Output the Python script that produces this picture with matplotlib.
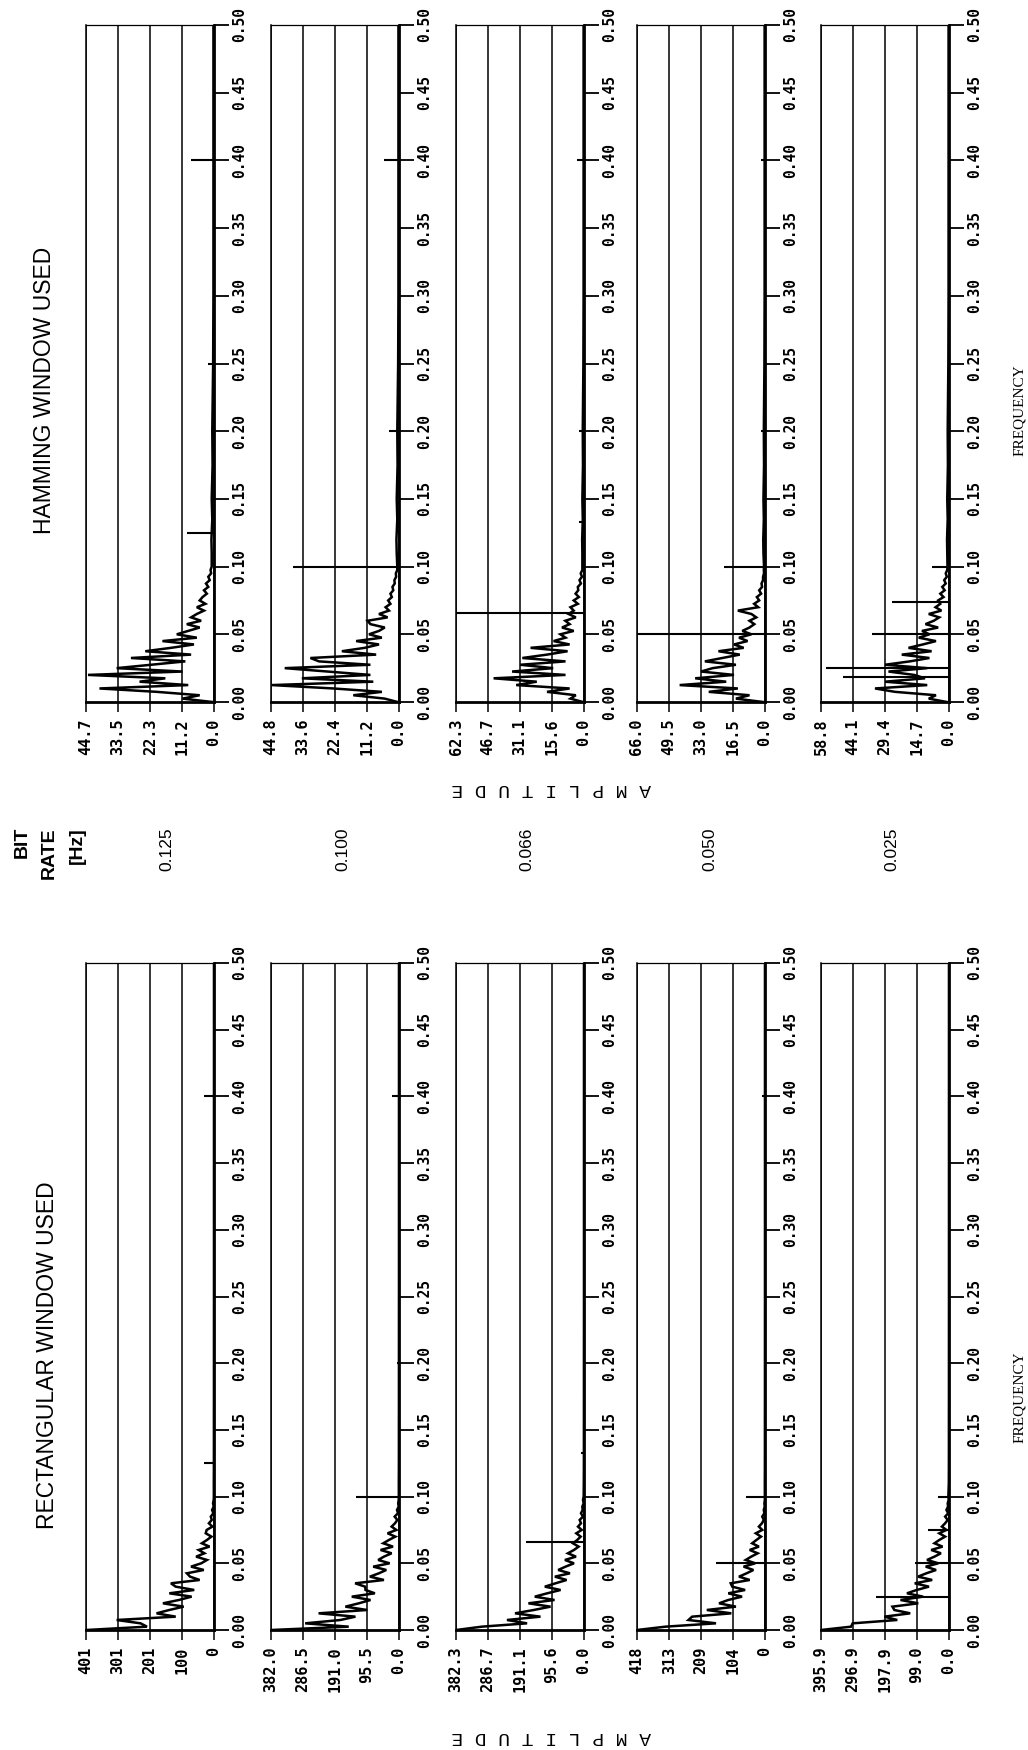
import matplotlib.pyplot as plt
import numpy as np

W, H = 1028, 1750

BIT_RATES = ["0.125", "0.100", "0.066", "0.050", "0.025"]
FREQ_TICKS = [0.00, 0.05, 0.10, 0.15, 0.20, 0.25, 0.30, 0.35, 0.40, 0.45, 0.50]
FREQ_LABELS = [f"{v:.2f}" for v in FREQ_TICKS]

# spectrum bins: fine grid up to 0.1, sparse tail up to Nyquist
LOW_F = np.arange(41) * 0.0025
TAIL_F = [0.11, 0.12, 0.135, 0.15, 0.175, 0.20, 0.25, 0.30, 0.40, 0.50]

# ── rectangular window spectra ──────────────────────────────────────────────
RECT_125 = [400, 210, 230, 305, 120, 180, 140, 95, 160, 110,
            70, 140, 62, 120, 135, 45, 75, 85, 32, 72,
            40, 22, 56, 30, 48, 14, 38, 22, 8, 26,
            23, 5, 16, 7, 10, 2, 6, 1, 3, 1, 0.5]
RECT_100 = [382, 150, 280, 175, 130, 240, 95, 160, 120, 85,
            141, 72, 100, 101, 131, 45, 87, 60, 38, 77,
            28, 62, 45, 22, 55, 18, 47, 30, 11, 34,
            8, 22, 12, 5, 13, 3, 6, 1, 2.5, 0.8, 0.5]
RECT_066 = [382, 305, 170, 230, 130, 206, 150, 100, 166, 88,
            147, 110, 70, 117, 85, 52, 87, 42, 77, 55,
            30, 57, 24, 48, 30, 16, 33, 20, 10, 23,
            7, 18, 9, 13, 3, 9, 4, 5, 1, 3, 1]
RECT_050 = [418, 325, 160, 250, 238, 110, 190, 95, 150, 120,
            75, 120, 65, 107, 112, 50, 85, 60, 38, 70,
            32, 63, 45, 24, 50, 20, 42, 28, 13, 30,
            9, 20, 10, 4, 9, 2, 4, 1, 2, 0.5, 0.5]
RECT_025 = [396, 303, 298, 160, 200, 120, 169, 175, 95, 150,
            80, 130, 100, 62, 106, 52, 96, 70, 40, 72,
            33, 68, 45, 25, 55, 20, 45, 30, 12, 30,
            8, 22, 12, 4, 12, 2.5, 8, 3, 4, 1, 2]
RECT_TAIL = [0.6, 0.4, 0.3, 0.3, 0.2, 0.2, 0.1, 0.1, 0.1, 0.1]

# discrete spectral lines (frequency, amplitude)
RECT_LINES = [
    [(0.125, 31), (0.40, 30)],
    [(0.100, 129), (0.20, 5), (0.40, 20)],
    [(0.066, 174), (0.133, 8)],
    [(0.050, 161), (0.100, 63), (0.40, 10)],
    [(0.025, 225), (0.050, 106), (0.075, 65), (0.100, 34)],
]
RECT_AMP_TICKS = [
    [401, 301, 201, 100, 0],
    [382.0, 286.5, 191.0, 95.5, 0.0],
    [382.3, 286.7, 191.1, 95.6, 0.0],
    [418, 313, 209, 104, 0],
    [395.9, 296.9, 197.9, 99.0, 0.0],
]
RECT_AMP_LABELS = [
    ["401", "301", "201", "100", "0"],
    ["382.0", "286.5", "191.0", "95.5", "0.0"],
    ["382.3", "286.7", "191.1", "95.6", "0.0"],
    ["418", "313", "209", "104", "0"],
    ["395.9", "296.9", "197.9", "99.0", "0.0"],
]

# ── hamming window spectra ──────────────────────────────────────────────────
HAMM_125 = [0.5, 11, 5, 20, 40, 9, 26, 17, 44, 11,
            34, 22, 10, 29, 8, 24, 15, 7, 18, 6,
            13, 9, 5, 9.5, 4.5, 8, 6, 3.5, 6, 3,
            5, 4, 2.5, 3.5, 2, 2.8, 1.5, 2, 1, 1.2, 0.8]
HAMM_100 = [0.5, 5, 16, 6, 23, 44.5, 9, 34, 10, 25,
            40, 10, 28, 31, 8, 20, 12, 7, 15, 6,
            10.5, 7, 5, 10, 11, 4, 7, 3.5, 4.7, 3,
            3.8, 2.5, 3, 2, 2.3, 1.5, 1.6, 1, 1.1, 0.6, 0.6]
HAMM_066 = [0.5, 6.6, 4, 18, 7, 33, 23, 44, 9, 35,
            15, 31, 9, 30, 18, 8, 26, 7, 14.8, 9,
            11.5, 5, 10.7, 7, 9.1, 4, 7.5, 5, 6.6, 3,
            5, 2.5, 4.1, 2.8, 3, 1.5, 2.2, 1, 1.6, 0.8, 0.8]
HAMM_050 = [1, 15, 8, 29, 14, 44, 20, 36, 16, 33,
            27, 15, 31, 22, 13, 24, 11, 16, 9, 13.4,
            7, 11.7, 8, 5.5, 8, 4.5, 7, 14, 3.5, 5.6,
            3, 4.2, 2, 3, 1.5, 1.8, 1, 1, 0.5, 0.6, 0.5]
HAMM_025 = [1, 9.3, 6, 24.8, 34, 10, 29.4, 11, 16, 27.8,
            10, 29.4, 18, 9, 21.7, 8, 18.6, 12, 6, 13.9,
            9, 12.4, 5, 10.8, 7, 4.5, 9.3, 3.5, 6.2, 4,
            5, 2.5, 4, 2, 3.1, 1.5, 2.2, 1, 1.5, 0.8, 0.7]
HAMM_TAIL = [0.8, 0.9, 0.6, 0.8, 0.5, 0.6, 0.3, 0.2, 0.2, 0.2]

HAMM_LINES = [
    [(0.125, 9.4), (0.25, 2), (0.40, 8)],
    [(0.100, 37.2), (0.20, 3.5), (0.40, 5.2)],
    [(0.066, 62.3), (0.133, 2.5), (0.20, 2.5), (0.40, 3.4)],
    [(0.050, 66.0), (0.100, 21.2), (0.20, 2), (0.40, 2)],
    [(0.0185, 48.7), (0.025, 56.5), (0.050, 35.6), (0.074, 26.3), (0.100, 7.7)],
]
HAMM_AMP_TICKS = [
    [44.7, 33.5, 22.3, 11.2, 0.0],
    [44.8, 33.6, 22.4, 11.2, 0.0],
    [62.3, 46.7, 31.1, 15.6, 0.0],
    [66.0, 49.5, 33.0, 16.5, 0.0],
    [58.8, 44.1, 29.4, 14.7, 0.0],
]
HAMM_AMP_LABELS = [[f"{v:.1f}" for v in t] for t in HAMM_AMP_TICKS]

RECT_SPECTRA = [RECT_125, RECT_100, RECT_066, RECT_050, RECT_025]
HAMM_SPECTRA = [HAMM_125, HAMM_100, HAMM_066, HAMM_050, HAMM_025]

# panel placement in pixels
PANEL_X = [86, 271, 456, 637, 821]
PANEL_W = 128
HAMM_ROW = (25, 702)
RECT_ROW = (963, 1630)

MONO = ["DejaVu Sans Mono"]
SANS = ["Liberation Sans", "DejaVu Sans"]


def fxy(x, y):
    return x / W, 1 - y / H


def draw_panel(fig, x, row, amps, tail, lines, ticks, labels):
    top, bottom = row
    ax = fig.add_axes([x / W, 1 - bottom / H, PANEL_W / W, (bottom - top) / H])

    freq = np.concatenate([LOW_F, TAIL_F])
    amp = np.concatenate([amps, tail])
    ax.plot(amp, freq, color="black", lw=1.8, solid_joinstyle="miter")

    lf = [p[0] for p in lines]
    la = [p[1] for p in lines]
    ax.hlines(lf, 0, la, color="black", lw=1.5)

    ax.set_xlim(ticks[0], 0)
    ax.set_ylim(0, 0.5)

    ax.set_xticks(ticks)
    ax.set_xticklabels(labels, rotation=90, family=MONO, weight="bold", fontsize=11)
    ax.set_yticks(FREQ_TICKS)
    ax.set_yticklabels(FREQ_LABELS, rotation=90, va="center", family=MONO,
                       weight="bold", fontsize=10.5)
    ax.yaxis.tick_right()
    ax.tick_params(axis="y", direction="out", length=11, width=1.3, pad=2)
    ax.tick_params(axis="x", direction="out", length=7, width=1.1, pad=5)
    ax.grid(axis="x", color="black", lw=1.1)
    ax.grid(axis="y", visible=False)

    ax.spines["left"].set_linewidth(1.1)
    ax.spines["top"].set_linewidth(0.9)
    ax.spines["right"].set_linewidth(2.0)
    ax.spines["bottom"].set_linewidth(2.0)
    return ax


fig = plt.figure(figsize=(W / 100, H / 100), dpi=100)
fig.patch.set_facecolor("white")

for i, x in enumerate(PANEL_X):
    draw_panel(fig, x, HAMM_ROW, HAMM_SPECTRA[i], HAMM_TAIL, HAMM_LINES[i],
               HAMM_AMP_TICKS[i], HAMM_AMP_LABELS[i])
    draw_panel(fig, x, RECT_ROW, RECT_SPECTRA[i], RECT_TAIL, RECT_LINES[i],
               RECT_AMP_TICKS[i], RECT_AMP_LABELS[i])

# window titles
fig.text(*fxy(45, 390), "HAMMING WINDOW USED", rotation=90, ha="center",
         va="center", family=SANS, fontsize=16.5)
fig.text(*fxy(48, 1355), "RECTANGULAR WINDOW USED", rotation=90, ha="center",
         va="center", family=SANS, fontsize=16.5)

# bit rate column between the two blocks
for x, word in zip([22, 49, 77], ["BIT", "RATE", "[Hz]"]):
    fig.text(*fxy(x, 827), word, rotation=90, ha="center", va="top",
             family=SANS, weight="bold", fontsize=14)
for x, rate in zip([167, 343, 527, 710, 892], BIT_RATES):
    fig.text(*fxy(x, 849), rate, rotation=90, ha="center", va="center",
             family=SANS, fontsize=12.5)

# axis names
for y in [788, 1737]:
    fig.text(*fxy(551, y), "A M P L I T U D E", rotation=180, ha="center",
             va="center", family=["Liberation Mono", "DejaVu Sans Mono"], fontsize=14)
for y in [410, 1397]:
    fig.text(*fxy(1020, y), "FREQUENCY", rotation=90, ha="center", va="center",
             family=["Liberation Serif", "DejaVu Serif"], fontsize=11)

fig.savefig("out.png", dpi=100, facecolor="white")
